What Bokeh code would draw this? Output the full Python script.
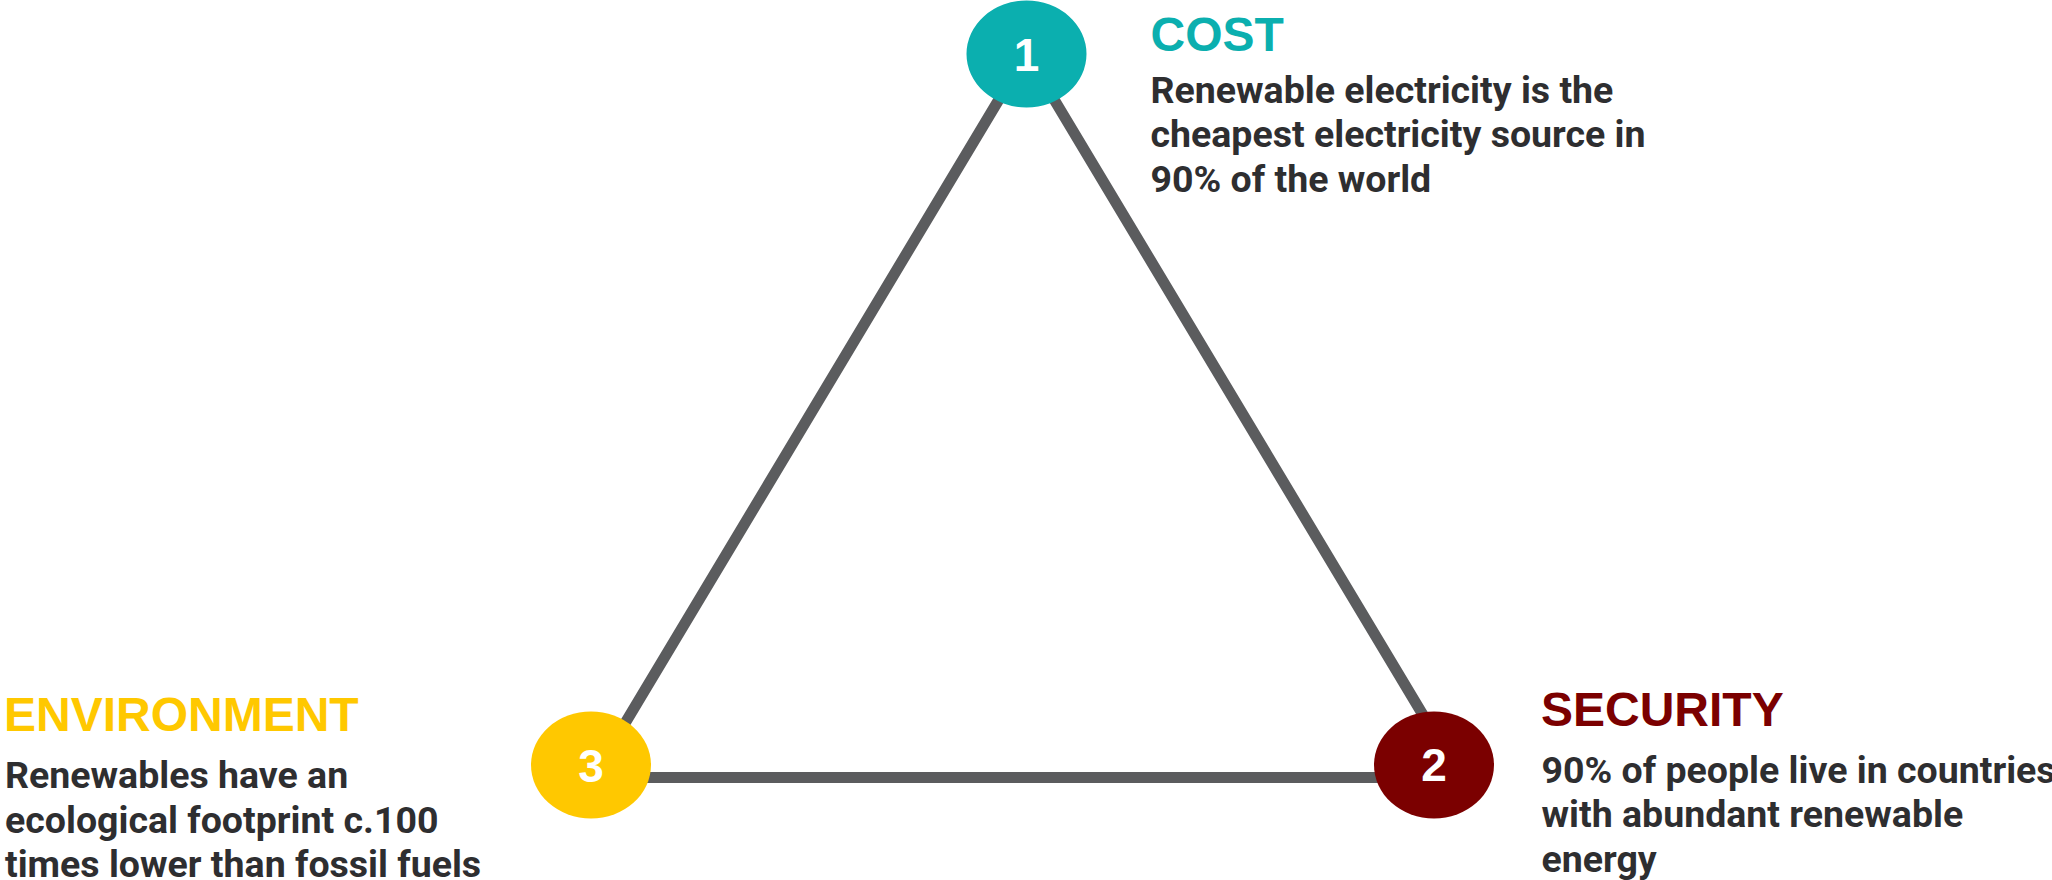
from bokeh.plotting import figure
from bokeh.models import Range1d, ColumnDataSource
from bokeh.core.properties import value
from bokeh.embed import file_html
from bokeh.resources import INLINE

# ---------------- data ----------------
pillars = ["COST", "SECURITY", "ENVIRONMENT"]
numbers = ["1", "2", "3"]
desc_cost = ["Renewable electricity is the",
             "cheapest electricity source in",
             "90% of the world"]
desc_security = ["90% of people live in countries",
                 "with abundant renewable",
                 "energy"]
desc_environment = ["Renewables have an",
                    "ecological footprint c.100",
                    "times lower than fossil fuels"]
descriptions = [desc_cost, desc_security, desc_environment]

# ---------------- layout / style ----------------
W, H = 2052, 880          # page pixels the diagram is laid out in
OFF = 4                   # canvas starts 4px before the page origin
pillar_colors = ["#0BAFAF", "#7B0000", "#FFC800"]
text_color = "#2E2E30"
line_color = "#5B5C5E"

node_x = [1026, 1433.5, 590.5]
node_y = [53.5, 764.5, 764.5]
node_w, node_h = 120, 107
num_y = [72, 782, 783]

tri_x = [1026, 1460, 592, 1026]
tri_y = [53, 777, 777, 53]

title_size, body_size, num_size = 48, 37.5, 46
k_title, k_body = 0.38, 0.32      # baseline calibration of the svg text renderer

title_x = [1150, 1540.5, 3.5]
title_y = [52, 727, 732]
body_x = [1150, 1541, 4.5]
body_y0 = [101, 781, 786.5]
line_gap = 44.5

p = figure(width=W + OFF, height=H + OFF, output_backend="svg",
           toolbar_location=None,
           x_range=Range1d(-OFF, W), y_range=Range1d(H, -OFF),
           x_axis_location=None, y_axis_location=None,
           min_border=0, outline_line_color=None,
           background_fill_color="white", border_fill_color="white",
           margin=(-OFF, -OFF, -OFF, -OFF))
p.grid.visible = False

# triangle connecting the three pillars
p.line(tri_x, tri_y, line_color=line_color, line_width=11, line_join="round")

# nodes
nodes = ColumnDataSource(dict(x=node_x, y=node_y, c=pillar_colors, num=numbers,
                              ny=[v - k_title * num_size for v in num_y]))
p.ellipse(x="x", y="y", width=node_w, height=node_h, fill_color="c",
          line_color=None, source=nodes)
p.text(x="x", y="ny", text="num", source=nodes, text_color="white",
       text_font=value("Liberation Sans"), text_font_style="bold",
       text_font_size=f"{num_size}px", text_align="center",
       text_baseline="alphabetic")

# titles
titles = ColumnDataSource(dict(x=title_x, t=pillars, c=pillar_colors,
                               y=[v - k_title * title_size for v in title_y]))
p.text(x="x", y="y", text="t", text_color="c", source=titles,
       text_font=value("Liberation Sans"), text_font_style="bold",
       text_font_size=f"{title_size}px", text_align="left",
       text_baseline="alphabetic")

# descriptions
bx, by, bt = [], [], []
for i, lines in enumerate(descriptions):
    for j, ln in enumerate(lines):
        bx.append(body_x[i])
        by.append(body_y0[i] + j * line_gap - k_body * body_size)
        bt.append(ln)
body = ColumnDataSource(dict(x=bx, y=by, t=bt))
p.text(x="x", y="y", text="t", source=body, text_color=text_color,
       text_font=value("Roboto"), text_font_style="bold",
       text_font_size=f"{body_size}px", text_align="left",
       text_baseline="alphabetic")

open("out.html", "w").write(file_html(p, INLINE))
